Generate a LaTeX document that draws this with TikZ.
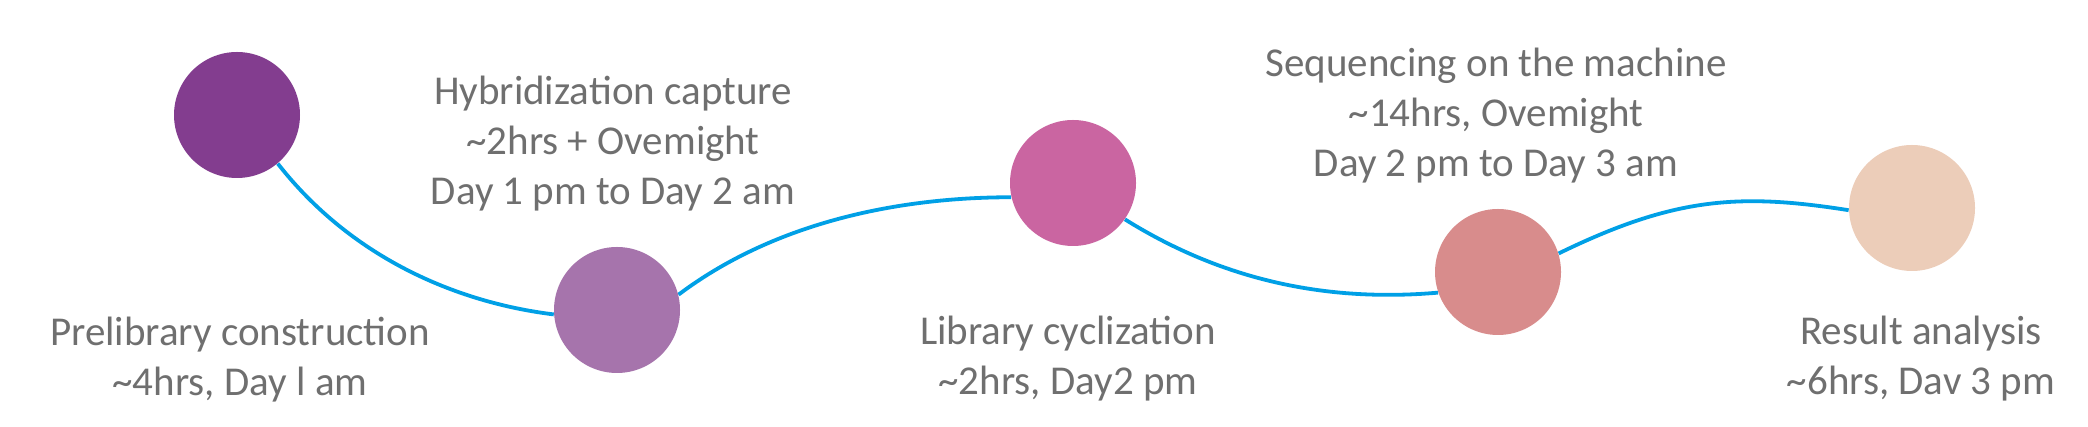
\documentclass[tikz,border=0pt]{standalone}
\usepackage{fontspec}
\setmainfont{Carlito}
\usetikzlibrary{backgrounds}
\definecolor{cA}{HTML}{833D8F}
\definecolor{cB}{HTML}{A674AC}
\definecolor{cC}{HTML}{CA65A1}
\definecolor{cD}{HTML}{D88C8C}
\definecolor{cE}{HTML}{ECCDB9}
\definecolor{linkblue}{HTML}{00A0E6}
\definecolor{txtgray}{HTML}{6F6F6F}
\begin{document}
\begin{tikzpicture}[x=0.5pt,y=0.5pt,
  dot/.style={circle, minimum size=63pt, inner sep=0pt, draw=none},
  lbl/.style={align=center, text=txtgray, font=\fontsize{20.5}{25}\selectfont, inner sep=0pt, anchor=base},
  link/.style={draw=linkblue, line width=1.9pt}]
\useasboundingbox (0,0) rectangle (2088,427);
\node[dot, fill=cA] (c1) at (237,312) {};
\node[dot, fill=cB] (c2) at (617,117) {};
\node[dot, fill=cC] (c3) at (1073,244) {};
\node[dot, fill=cD] (c4) at (1498,155) {};
\node[dot, fill=cE] (c5) at (1912,219) {};
\begin{scope}[on background layer]
\draw[link] (c1.-50) .. controls +(-52:118) and +(173:100) .. (c2.184);
\draw[link] (c2.14) .. controls +(37:115) and +(180:120) .. (c3.193);
\draw[link] (c3.-35) .. controls +(-32:106) and +(185:121) .. (c4.199);
\draw[link] (c4.17) .. controls +(26:128) and +(171:111) .. (c5.182);
\end{scope}
\node[lbl] (t1) at (240,31) {Prelibrary construction\\\textasciitilde 4hrs, Day l am};
\node[lbl] (t2) at (613,222) {Hybridization capture\\\textasciitilde 2hrs + Ovemight\\Day 1 pm to Day 2 am};
\node[lbl] (t3) at (1068,32) {Library cyclization\\\textasciitilde 2hrs, Day2 pm};
\node[lbl] (t4) at (1496,250) {Sequencing on the machine\\\textasciitilde 14hrs, Ovemight\\Day 2 pm to Day 3 am};
\node[lbl] (t5) at (1921,32) {Result analysis\\\textasciitilde 6hrs, Dav 3 pm};
\end{tikzpicture}
\end{document}
